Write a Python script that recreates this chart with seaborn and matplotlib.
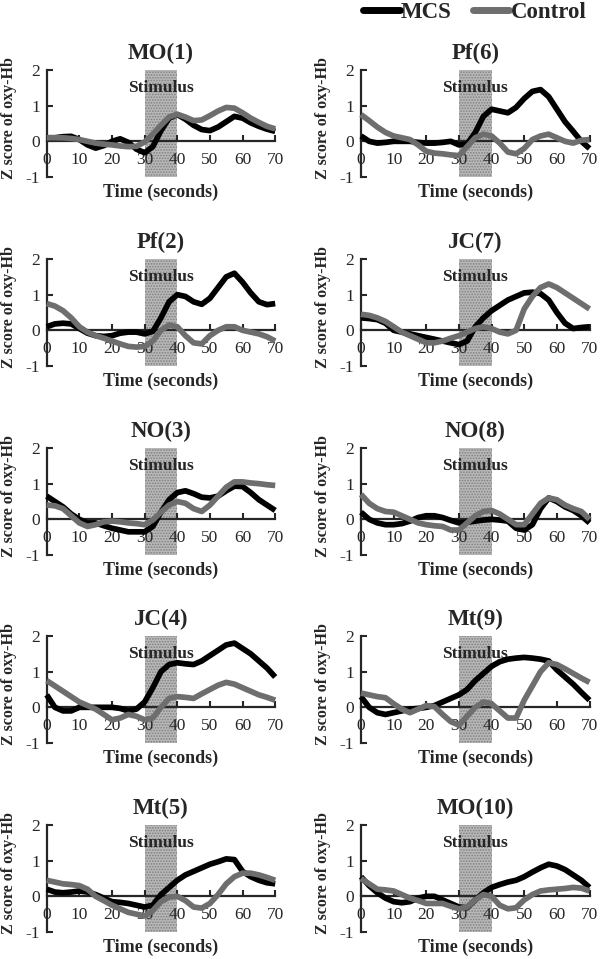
import numpy as np
import pandas as pd
import matplotlib
matplotlib.use("Agg")
import matplotlib.pyplot as plt
from matplotlib.lines import Line2D
import seaborn as sns

# tiempo en segundos, cada 2.5 s
t = np.arange(0, 70.1, 2.5)

titles = ["MO(1)", "Pf(2)", "NO(3)", "JC(4)", "Mt(5)",
          "Pf(6)", "JC(7)", "NO(8)", "Mt(9)", "MO(10)"]

# valores (MCS = negro, Control = gris)
mcs_1 = [0.1, 0.1, 0.13, 0.14, 0.05, -0.1, -0.19, -0.12, 0.0, 0.07, -0.03, -0.22, -0.32, -0.15, 0.3,
         0.65, 0.75, 0.62, 0.45, 0.33, 0.3, 0.4, 0.55, 0.7, 0.65, 0.52, 0.42, 0.34, 0.28]
ctl_1 = [0.1, 0.1, 0.1, 0.08, 0.05, 0.0, -0.05, -0.08, -0.1, -0.13, -0.15, -0.14, -0.02, 0.2, 0.45,
         0.68, 0.76, 0.68, 0.58, 0.6, 0.72, 0.85, 0.95, 0.93, 0.8, 0.65, 0.53, 0.42, 0.35]

mcs_2 = [0.1, 0.18, 0.2, 0.18, 0.05, -0.08, -0.15, -0.17, -0.15, -0.08, -0.05, -0.05, -0.1, -0.03, 0.35,
         0.8, 1.0, 0.95, 0.8, 0.73, 0.9, 1.2, 1.5, 1.6, 1.35, 1.05, 0.8, 0.72, 0.75]
ctl_2 = [0.75, 0.68, 0.55, 0.35, 0.1, -0.05, -0.15, -0.22, -0.3, -0.38, -0.45, -0.47, -0.45, -0.3, 0.0,
         0.15, 0.1, -0.15, -0.35, -0.38, -0.15, 0.0, 0.1, 0.1, 0.0, -0.05, -0.1, -0.18, -0.3]

mcs_3 = [0.65, 0.5, 0.35, 0.15, 0.0, -0.1, -0.1, -0.18, -0.25, -0.3, -0.35, -0.35, -0.35, -0.2, 0.2,
         0.55, 0.75, 0.8, 0.72, 0.62, 0.6, 0.65, 0.8, 0.93, 0.92, 0.75, 0.55, 0.4, 0.25]
ctl_3 = [0.4, 0.38, 0.3, 0.1, -0.1, -0.2, -0.15, -0.07, -0.05, -0.07, -0.1, -0.12, -0.15, -0.02, 0.2,
         0.4, 0.5, 0.45, 0.3, 0.22, 0.4, 0.65, 0.9, 1.05, 1.05, 1.02, 1.0, 0.97, 0.95]

mcs_4 = [0.35, 0.0, -0.1, -0.1, 0.0, 0.0, 0.0, 0.0, 0.0, -0.03, -0.1, -0.05, 0.15, 0.55, 1.0,
         1.2, 1.25, 1.22, 1.2, 1.3, 1.45, 1.6, 1.75, 1.8, 1.65, 1.5, 1.3, 1.1, 0.85]
ctl_4 = [0.75, 0.6, 0.45, 0.3, 0.15, 0.05, -0.05, -0.2, -0.35, -0.3, -0.2, -0.25, -0.35, -0.3, 0.0,
         0.25, 0.3, 0.28, 0.25, 0.38, 0.5, 0.62, 0.7, 0.65, 0.55, 0.45, 0.35, 0.28, 0.2]

mcs_5 = [0.2, 0.12, 0.1, 0.12, 0.15, 0.12, 0.05, -0.05, -0.15, -0.17, -0.2, -0.25, -0.3, -0.25, 0.05,
         0.25, 0.45, 0.6, 0.7, 0.8, 0.9, 0.97, 1.05, 1.03, 0.7, 0.55, 0.45, 0.38, 0.35]
ctl_5 = [0.45, 0.4, 0.35, 0.33, 0.3, 0.2, 0.0, -0.12, -0.25, -0.35, -0.45, -0.5, -0.55, -0.4, -0.15,
         -0.02, 0.0, -0.12, -0.3, -0.33, -0.2, 0.05, 0.35, 0.55, 0.65, 0.65, 0.6, 0.53, 0.45]

mcs_6 = [0.15, 0.0, -0.05, -0.03, 0.0, 0.0, 0.0, -0.03, -0.05, -0.05, -0.03, 0.0, -0.1, -0.08, 0.25,
         0.7, 0.9, 0.85, 0.8, 0.95, 1.2, 1.4, 1.45, 1.25, 0.9, 0.55, 0.28, 0.0, -0.2]
ctl_6 = [0.75, 0.58, 0.4, 0.25, 0.15, 0.1, 0.05, -0.1, -0.28, -0.33, -0.35, -0.38, -0.4, -0.15, 0.1,
         0.2, 0.15, -0.05, -0.3, -0.35, -0.2, 0.05, 0.15, 0.2, 0.1, 0.0, -0.05, 0.03, 0.05]

mcs_7 = [0.35, 0.33, 0.3, 0.2, 0.0, -0.05, -0.1, -0.15, -0.2, -0.25, -0.3, -0.35, -0.4, -0.3, 0.1,
         0.35, 0.55, 0.7, 0.85, 0.95, 1.05, 1.07, 1.03, 0.85, 0.5, 0.2, 0.05, 0.08, 0.1]
ctl_7 = [0.45, 0.42, 0.35, 0.25, 0.1, -0.05, -0.15, -0.25, -0.35, -0.35, -0.3, -0.22, -0.15, -0.05, 0.05,
         0.1, 0.05, -0.05, -0.1, 0.0, 0.6, 0.95, 1.2, 1.3, 1.2, 1.05, 0.9, 0.75, 0.6]

mcs_8 = [0.2, 0.0, -0.1, -0.15, -0.15, -0.12, -0.05, 0.05, 0.1, 0.1, 0.05, -0.03, -0.1, -0.08, -0.05,
         -0.02, 0.0, -0.02, -0.05, -0.25, -0.3, -0.15, 0.3, 0.6, 0.5, 0.35, 0.25, 0.1, -0.1]
ctl_8 = [0.7, 0.45, 0.3, 0.22, 0.2, 0.1, 0.0, -0.1, -0.15, -0.18, -0.2, -0.3, -0.3, -0.1, 0.1,
         0.22, 0.25, 0.15, 0.0, -0.15, -0.15, 0.15, 0.45, 0.6, 0.55, 0.4, 0.3, 0.22, 0.0]

mcs_9 = [0.3, 0.0, -0.15, -0.2, -0.15, -0.1, -0.05, -0.03, 0.0, 0.05, 0.15, 0.25, 0.35, 0.5, 0.75,
         0.95, 1.15, 1.28, 1.35, 1.38, 1.4, 1.38, 1.35, 1.3, 1.05, 0.85, 0.65, 0.42, 0.2]
ctl_9 = [0.4, 0.35, 0.3, 0.27, 0.1, -0.05, -0.15, -0.05, 0.05, 0.02, -0.2, -0.4, -0.5, -0.25, 0.0,
         0.15, 0.1, -0.1, -0.3, -0.3, 0.2, 0.6, 1.0, 1.25, 1.2, 1.08, 0.95, 0.82, 0.7]

mcs_10 = [0.55, 0.3, 0.1, -0.05, -0.15, -0.18, -0.15, -0.05, 0.0, 0.0, -0.1, -0.2, -0.3, -0.32, -0.1,
          0.1, 0.25, 0.33, 0.4, 0.45, 0.55, 0.68, 0.8, 0.9, 0.85, 0.75, 0.6, 0.45, 0.25]
ctl_10 = [0.5, 0.35, 0.2, 0.18, 0.15, 0.05, -0.05, -0.12, -0.2, -0.2, -0.2, -0.28, -0.35, -0.3, -0.1,
          0.05, 0.0, -0.25, -0.35, -0.32, -0.1, 0.05, 0.15, 0.18, 0.2, 0.22, 0.25, 0.23, 0.15]

mcs_all = [mcs_1, mcs_2, mcs_3, mcs_4, mcs_5, mcs_6, mcs_7, mcs_8, mcs_9, mcs_10]
ctl_all = [ctl_1, ctl_2, ctl_3, ctl_4, ctl_5, ctl_6, ctl_7, ctl_8, ctl_9, ctl_10]

black = "#000000"
gray = "#6e6e6e"

sns.set_theme(style="ticks")
plt.rcParams["font.family"] = ["Liberation Serif", "DejaVu Serif"]
plt.rcParams["axes.unicode_minus"] = False
plt.rcParams["hatch.linewidth"] = 0.8

fig = plt.figure(figsize=(6, 9.59), dpi=100)

# posiciones en pixeles de cada panel
col_left = [46.7, 361.0]
row_bottom = [177, 366, 555, 743, 932]

for k in range(10):
    col = k // 5
    row = k % 5
    ax = fig.add_axes([col_left[col] / 600, 1 - row_bottom[row] / 959, 228.5 / 600, 107 / 959])

    df = pd.DataFrame({
        "t": np.concatenate([t, t]),
        "z": np.concatenate([mcs_all[k], ctl_all[k]]),
        "grupo": ["MCS"] * len(t) + ["Control"] * len(t),
    })

    # zona del estimulo
    ax.axvspan(30, 40, facecolor="#b8b8b8", edgecolor="#808080", hatch="......", lw=0, zorder=0)
    ax.text(35, 1.5, "Stimulus", ha="center", va="center", fontsize=12.5, fontweight="bold", zorder=1)

    sns.lineplot(data=df, x="t", y="z", hue="grupo", hue_order=["MCS", "Control"],
                 palette={"MCS": black, "Control": gray}, linewidth=4.1, legend=False,
                 ax=ax, zorder=3)
    for ln in ax.lines:
        ln.set_clip_on(False)
        ln.set_solid_capstyle("butt")
        ln.set_solid_joinstyle("round")

    ax.set_xlim(0, 70)
    ax.set_ylim(-1, 2)
    ax.set_xticks(range(0, 71, 10))
    ax.set_yticks([-1, 0, 1, 2])

    ax.spines["top"].set_visible(False)
    ax.spines["right"].set_visible(False)
    ax.spines["bottom"].set_position(("data", 0))
    ax.spines["bottom"].set_linewidth(1.6)
    ax.spines["left"].set_linewidth(1.6)
    ax.spines["bottom"].set_zorder(2)
    ax.tick_params(axis="x", direction="in", length=4, width=1.5, pad=8, labelsize=12.5)
    ax.tick_params(axis="y", direction="in", length=4, width=1.5, pad=5, labelsize=12.5)

    ax.set_title(titles[k], fontsize=16.5, fontweight="bold", pad=8)
    ax.set_xlabel("Time (seconds)", fontsize=13, fontweight="bold")
    ax.set_ylabel("Z score of oxy-Hb", fontsize=11.5, fontweight="bold")
    ax.xaxis.set_label_coords(0.5, -0.06)
    ax.yaxis.set_label_coords(-0.13, 0.55)

# leyenda arriba a la derecha
handles = [Line2D([], [], color=black, lw=5), Line2D([], [], color=gray, lw=5)]
fig.legend(handles, ["MCS", "Control"], loc="upper right", bbox_to_anchor=(1.0, 1.012),
           ncol=2, frameon=False, handlelength=1.6, handletextpad=0.05, columnspacing=0.9,
           borderaxespad=0.2, prop={"weight": "bold", "size": 16.5})

fig.savefig("out.png", dpi=100)
